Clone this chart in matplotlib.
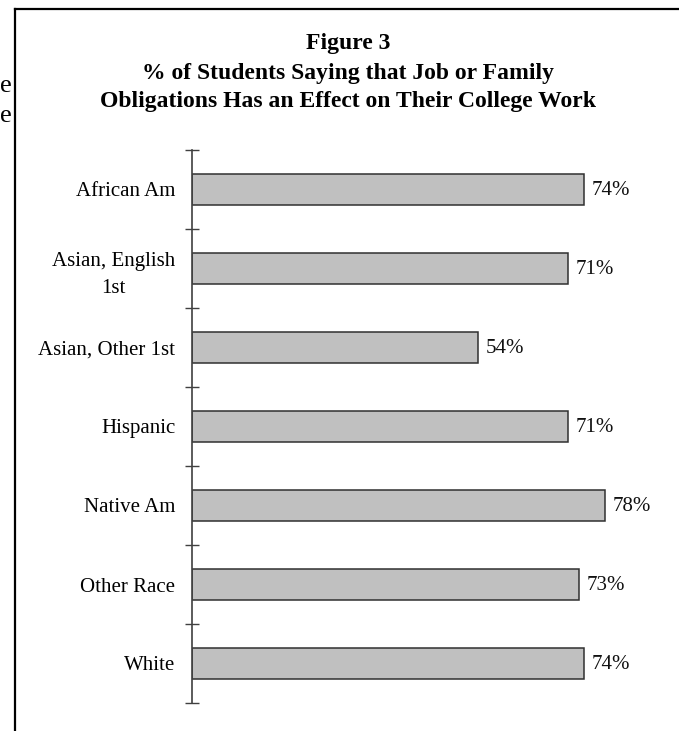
import numpy as np
import matplotlib.pyplot as plt
from matplotlib.lines import Line2D

# groups and percent of students reporting an effect on college work
groups = ['African Am', 'Asian, English\n1st', 'Asian, Other 1st', 'Hispanic',
          'Native Am', 'Other Race', 'White']
pct = [74, 71, 54, 71, 78, 73, 74]

title_lines = ['Figure 3',
               '% of Students Saying that Job or Family',
               'Obligations Has an Effect on Their College Work']

plt.rcParams['font.family'] = ['Liberation Serif', 'DejaVu Serif']

W, H = 679, 731
fig = plt.figure(figsize=(W / 100, H / 100), dpi=100)
ax = fig.add_axes([192 / W, 1 - 703 / H, 477 / W, 553 / H])

y = np.arange(len(groups))
ax.barh(y, pct, height=0.4, color='#c0c0c0', edgecolor='#303030', linewidth=1.1)
ax.set_xlim(0, 90)
ax.set_ylim(len(groups) - 0.5, -0.5)

for yi, v in zip(y, pct):
    ax.annotate(f'{v}%', xy=(v, yi), xytext=(5.5, -1), textcoords='offset points',
                va='center', ha='left', fontsize=15, color='#111111')

# boundary ticks crossing the axis, labels on the category centres
ax.set_yticks(np.arange(-0.5, len(groups), 1.0))
ax.set_yticklabels([])
ax.tick_params(axis='y', which='major', direction='inout', length=10, width=1.0,
               color='#404040')
ax.set_yticks(y, minor=True)
ax.set_yticklabels(groups, minor=True, fontsize=15, multialignment='center',
                   linespacing=1.6)
ax.tick_params(axis='y', which='minor', length=0, pad=12)

ax.set_xticks([])
for side in ['top', 'right', 'bottom']:
    ax.spines[side].set_visible(False)
ax.spines['left'].set_color('#404040')
ax.spines['left'].set_linewidth(1.2)

for ty, line in zip([43, 73, 102], title_lines):
    fig.text(348 / W, 1 - ty / H, line, ha='center', va='center',
             fontsize=17, fontweight='bold')

# frame around the figure
fig.add_artist(Line2D([15 / W, 15 / W], [0, 1 - 9 / H], color='black', linewidth=1.6))
fig.add_artist(Line2D([15 / W, 1], [1 - 9 / H, 1 - 9 / H], color='black', linewidth=1.6))

# clipped text from the page beside the figure
for ey in [86, 116]:
    fig.text(12 / W, 1 - ey / H, 'e', ha='right', va='center', fontsize=19)

fig.savefig('out.png', dpi=100)
